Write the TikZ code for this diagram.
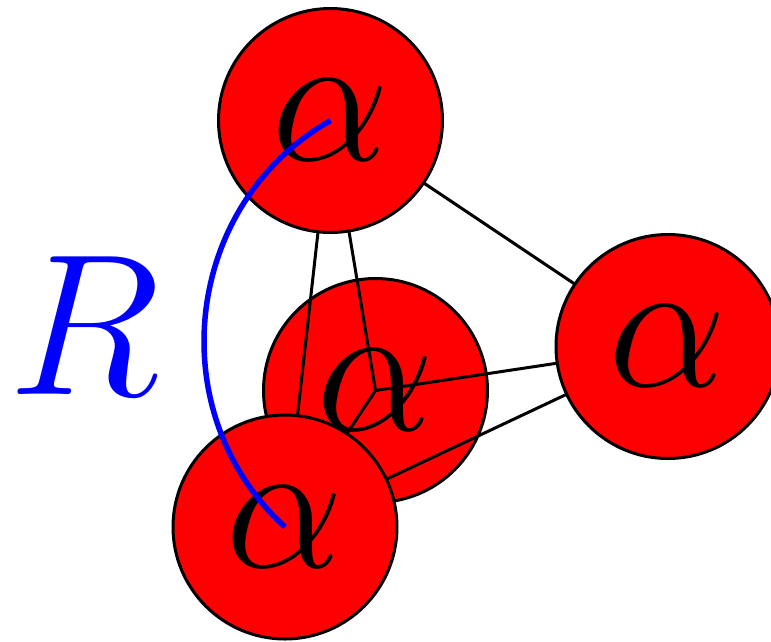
\documentclass[tikz,border=0pt]{standalone}
\usepackage{graphicx}
\pgfdeclarelayer{back}
\pgfdeclarelayer{links}
\pgfsetlayers{back,links,main}
\newcommand{\bigalpha}{\scalebox{7.55}{\Huge$\alpha$}}
\begin{document}
\begin{tikzpicture}[x=1pt,y=-1pt,
  alphabox/.style={circle,draw=black,fill=red,line width=3pt,minimum size=224pt,inner sep=0pt},
  link/.style={draw=black,line width=3pt},
  rarc/.style={draw=blue,line width=5.5pt}]
\useasboundingbox (0,0) rectangle (771,641);
\begin{pgfonlayer}{back}
\node[alphabox] (mid) at (375.5,390.5) {\bigalpha};
\end{pgfonlayer}
\node[alphabox] (top) at (330.5,120.5) {\bigalpha};
\node[alphabox] (right) at (668,346.5) {\bigalpha};
\node[alphabox] (bot) at (285,527) {\bigalpha};
\begin{pgfonlayer}{links}
\draw[link] (top.center) -- (mid.center);
\draw[link] (top.center) -- (bot.center);
\draw[link] (top.center) -- (right.center);
\draw[link] (mid.center) -- (right.center);
\draw[link] (mid.center) -- (bot.center);
\draw[link] (bot.center) -- (right.center);
\end{pgfonlayer}
\draw[rarc] (top.center) to[bend right=54,looseness=1.06] (bot.center);
\node[text=blue,inner sep=0pt] (R) at (84,325.5) {\scalebox{8.1}{\Huge$R$}};
\end{tikzpicture}
\end{document}
